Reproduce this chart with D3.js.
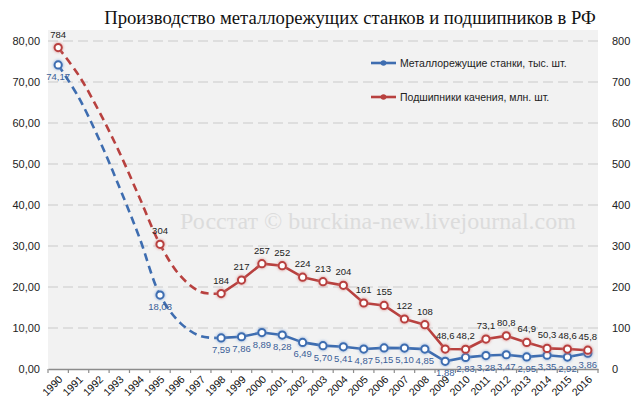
<!DOCTYPE html>
<html>
<head>
<meta charset="utf-8">
<script src="https://cdn.jsdelivr.net/npm/d3@7"></script>
<style>
  body { margin: 0; background: #fff; }
  svg { display: block; }
</style>
</head>
<body>
<div class="chart"></div>
<script>
const years = d3.range(1990, 2017).map(String);

// years with markers and labels
const markYears = ["1990","1995","1998","1999","2000","2001","2002","2003","2004","2005","2006","2007","2008","2009","2010","2011","2012","2013","2014","2015","2016"];
// станки, тыс. шт.
const toolValues = [74.17, 18.03, 7.59, 7.86, 8.89, 8.28, 6.49, 5.70, 5.41, 4.87, 5.15, 5.10, 4.85, 1.88, 2.83, 3.28, 3.47, 2.95, 3.35, 2.92, 3.86];
// подшипники, млн. шт.
const bearingValues = [784, 304, 184, 217, 257, 252, 224, 213, 204, 161, 155, 122, 108, 48.6, 48.2, 73.1, 80.8, 64.9, 50.3, 48.6, 45.8];

// dashed part 1990-1998
const dashYears = ["1990","1991","1992","1993","1994","1995","1996","1997","1998"];
const toolDash = [74.17, 66.3, 56.1, 44.4, 31.9, 18.03, 11.2, 8.0, 7.59];
const bearingDash = [784, 717, 629, 529, 417, 304, 227, 188, 184];

const leftTicks = [0, 10, 20, 30, 40, 50, 60, 70, 80];
const rightTicks = [0, 100, 200, 300, 400, 500, 600, 700, 800];

const seriesNames = ["Металлорежущие станки, тыс. шт.", "Подшипники качения, млн. шт."];
const title = "Производство металлорежущих станков и подшипников в РФ";
const watermark = "Росстат © burckina-new.livejournal.com";

const W = 640, H = 415;
const margin = {top: 41, right: 42, bottom: 46, left: 48};
const blue = "#3e6db0", red = "#b8413f";

const svg = d3.select(".chart").append("svg")
    .attr("width", W)
    .attr("height", H);

const defs = svg.append("defs");
[["glowBlue", "#6f9ad6"], ["glowRed", "#d77a78"]].forEach(([id, c]) => {
    const f = defs.append("filter").attr("id", id)
        .attr("x", "-60%").attr("y", "-60%").attr("width", "220%").attr("height", "220%");
    f.append("feDropShadow").attr("dx", 0).attr("dy", 0)
        .attr("stdDeviation", 1.6).attr("flood-color", c).attr("flood-opacity", 0.9);
});

const x = d3.scaleBand().domain(years).range([margin.left, W - margin.right]);
const yL = d3.scaleLinear().domain([0, 80]).range([H - margin.bottom, margin.top]);
const yR = d3.scaleLinear().domain([0, 800]).range([H - margin.bottom, margin.top]);
const cx = d => x(d) + x.bandwidth() / 2;

// plot background
svg.append("rect")
    .attr("x", margin.left).attr("y", 30)
    .attr("width", W - margin.left - margin.right)
    .attr("height", H - margin.bottom - 30)
    .attr("fill", "#f2f2f2");

// grid
svg.append("g").selectAll("line")
    .data(leftTicks.slice(1))
    .join("line")
    .attr("x1", margin.left).attr("x2", W - margin.right)
    .attr("y1", d => yL(d)).attr("y2", d => yL(d))
    .attr("stroke", "#c9c9c9").attr("stroke-width", 1.2)
    .attr("stroke-dasharray", "10,5");

// watermark
svg.append("text")
    .attr("x", 378).attr("y", 229)
    .attr("text-anchor", "middle")
    .attr("font-family", "'Liberation Serif', 'DejaVu Serif', serif")
    .attr("font-size", 24)
    .attr("fill", "#dcdcdc")
    .text(watermark);

// axes
const axisFont = "'Liberation Sans', Arial, sans-serif";
const gl = svg.append("g")
    .attr("transform", `translate(${margin.left},0)`)
    .call(d3.axisLeft(yL).tickValues(leftTicks).tickSize(0).tickPadding(8)
        .tickFormat(d => d3.format(".2f")(d).replace(".", ",")));
gl.select(".domain").remove();
gl.selectAll("text").attr("font-family", axisFont).attr("font-size", 11).attr("fill", "#222");

const gr = svg.append("g")
    .attr("transform", `translate(${W - margin.right},0)`)
    .call(d3.axisRight(yR).tickValues(rightTicks).tickSize(0).tickPadding(14));
gr.select(".domain").remove();
gr.selectAll("text").attr("font-family", axisFont).attr("font-size", 11).attr("fill", "#222");

const gx = svg.append("g")
    .attr("transform", `translate(0,${H - margin.bottom})`)
    .call(d3.axisBottom(x).tickSize(0).tickPadding(0));
gx.select(".domain").attr("stroke", "#8c8c8c").attr("stroke-width", 1.5);
gx.selectAll("text")
    .attr("font-family", axisFont).attr("font-size", 10.5).attr("fill", "#111")
    .attr("text-anchor", "end")
    .attr("dy", 0)
    .attr("transform", "translate(5,11) rotate(-45)");
gx.append("g").selectAll("line")
    .data(years.concat(["end"]))
    .join("line")
    .attr("x1", (d, i) => margin.left + i * x.step())
    .attr("x2", (d, i) => margin.left + i * x.step())
    .attr("y1", 0).attr("y2", 4)
    .attr("stroke", "#8c8c8c").attr("stroke-width", 1.2);

// series
function makeSeries(yrs, vals, yScale) {
    return yrs.map((yr, i) => ({year: yr, value: vals[i], px: cx(yr), py: yScale(vals[i])}));
}
const tools = makeSeries(markYears, toolValues, yL);
const bearings = makeSeries(markYears, bearingValues, yR);
const toolsDash = makeSeries(dashYears, toolDash, yL);
const bearingsDash = makeSeries(dashYears, bearingDash, yR);

const smooth = d3.line().x(d => d.px).y(d => d.py).curve(d3.curveCatmullRom.alpha(0.5));
const straight = d3.line().x(d => d.px).y(d => d.py);

function drawSeries(data, dashData, color, glow) {
    const g = svg.append("g");
    g.append("path")
        .attr("d", smooth(dashData))
        .attr("fill", "none").attr("stroke", color)
        .attr("stroke-width", 2.6).attr("stroke-dasharray", "8,5");
    g.append("path")
        .attr("d", straight(data.slice(2)))
        .attr("fill", "none").attr("stroke", color)
        .attr("stroke-width", 2.6).attr("stroke-linejoin", "round");
    g.selectAll("circle")
        .data(data)
        .join("circle")
        .attr("cx", d => d.px).attr("cy", d => d.py)
        .attr("r", 3.6)
        .attr("fill", "#fff").attr("stroke", color).attr("stroke-width", 2)
        .attr("filter", `url(#${glow})`);
    return g;
}
drawSeries(tools, toolsDash, blue, "glowBlue");
drawSeries(bearings, bearingsDash, red, "glowRed");

// data labels
const lblFont = "'Liberation Sans', Arial, sans-serif";
svg.append("g").selectAll("text")
    .data(tools)
    .join("text")
    .attr("x", d => d.px).attr("y", d => d.py + 15)
    .attr("text-anchor", "middle")
    .attr("font-family", lblFont).attr("font-size", 9.5)
    .attr("fill", "#3b5f98")
    .text(d => d3.format(".2f")(d.value).replace(".", ","));

svg.append("g").selectAll("text")
    .data(bearings)
    .join("text")
    .attr("x", d => d.px).attr("y", d => d.py - 10)
    .attr("text-anchor", "middle")
    .attr("font-family", lblFont).attr("font-size", 9.5)
    .attr("fill", "#222")
    .text(d => (d.value >= 100 ? d3.format("d")(d.value) : d3.format(".1f")(d.value).replace(".", ",")));

// legend
const legend = svg.append("g").selectAll("g")
    .data([[seriesNames[0], blue, "glowBlue", 63], [seriesNames[1], red, "glowRed", 97]])
    .join("g")
    .attr("transform", d => `translate(371,${d[3]})`);
legend.append("line")
    .attr("x1", 0).attr("x2", 25)
    .attr("stroke", d => d[1]).attr("stroke-width", 2.6);
legend.append("circle")
    .attr("cx", 12.5).attr("r", 2.8)
    .attr("fill", d => d[1]);
legend.append("text")
    .attr("x", 29).attr("dy", "0.35em")
    .attr("font-family", lblFont).attr("font-size", 10.5)
    .attr("fill", "#222")
    .text(d => d[0]);

// title
svg.append("text")
    .attr("x", 350).attr("y", 24)
    .attr("text-anchor", "middle")
    .attr("font-family", "'Liberation Serif', 'DejaVu Serif', serif")
    .attr("font-size", 18.7)
    .attr("fill", "#111")
    .text(title);
</script>
</body>
</html>
